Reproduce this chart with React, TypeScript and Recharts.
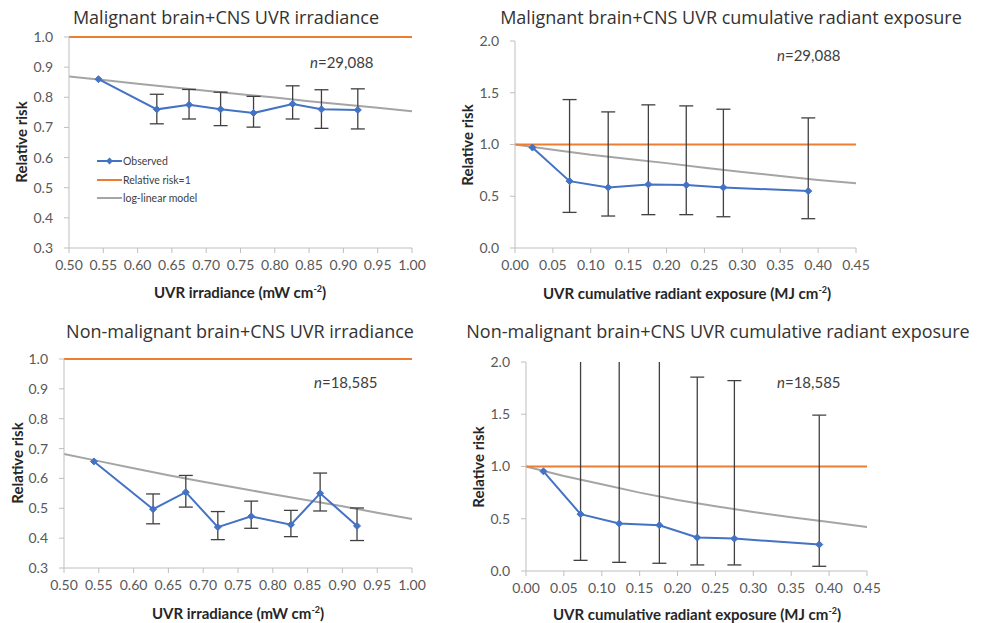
import { ErrorBar, Legend, Line, LineChart, XAxis, YAxis } from 'recharts';

const BLUE = '#4472C4';
const ORANGE = '#ED7D31';
const GREY = '#A5A5A5';
const BAR = '#404040';
const AXIS = '#BFBFBF';
const FONT = 'Lato, "Open Sans", sans-serif';

// x positions of the exposure groups
const irrX = [0.543, 0.628, 0.675, 0.721, 0.769, 0.826, 0.868, 0.921];
const cumX = [0.023, 0.072, 0.123, 0.176, 0.226, 0.275, 0.387];

// malignant, irradiance
const malIrrRR = [0.86, 0.76, 0.775, 0.76, 0.748, 0.778, 0.76, 0.758];
const malIrrLow = [null, 0.712, 0.728, 0.706, 0.701, 0.728, 0.697, 0.695];
const malIrrHigh = [null, 0.81, 0.826, 0.817, 0.803, 0.838, 0.825, 0.828];

// malignant, cumulative exposure
const malCumRR = [0.971, 0.646, 0.585, 0.614, 0.608, 0.585, 0.55];
const malCumLow = [null, 0.344, 0.309, 0.322, 0.322, 0.302, 0.283];
const malCumHigh = [null, 1.434, 1.315, 1.383, 1.373, 1.341, 1.257];

// non-malignant, irradiance
const nonIrrRR = [0.657, 0.497, 0.554, 0.437, 0.473, 0.445, 0.55, 0.441];
const nonIrrLow = [null, 0.448, 0.504, 0.395, 0.433, 0.405, 0.491, 0.392];
const nonIrrHigh = [null, 0.548, 0.61, 0.489, 0.524, 0.493, 0.618, 0.501];

// non-malignant, cumulative exposure (first three upper limits run off the top)
const nonCumRR = [0.954, 0.544, 0.454, 0.438, 0.32, 0.31, 0.253];
const nonCumLow = [null, 0.102, 0.083, 0.074, 0.058, 0.058, 0.045];
const nonCumHigh = [null, 2.6, 2.5, 2.4, 1.856, 1.821, 1.491];

// log-linear model curves
const irrModelX = [0.5, 0.55, 0.6, 0.65, 0.7, 0.75, 0.8, 0.85, 0.9, 0.95, 1.0];
const malIrrModel = [0.869, 0.857, 0.845, 0.833, 0.822, 0.81, 0.799, 0.787, 0.776, 0.765, 0.754];
const nonIrrModel = [0.682, 0.658, 0.634, 0.611, 0.589, 0.568, 0.547, 0.527, 0.507, 0.485, 0.464];
const cumModelX = [0, 0.05, 0.1, 0.15, 0.2, 0.25, 0.3, 0.35, 0.4, 0.45];
const malCumModel = [1.0, 0.95, 0.9, 0.86, 0.82, 0.775, 0.735, 0.695, 0.658, 0.625];
const nonCumModel = [1.0, 0.91, 0.83, 0.75, 0.68, 0.62, 0.565, 0.515, 0.47, 0.42];

// relative risk = 1 reference
const irrRefX = [0.5, 1.0];
const cumRefX = [0, 0.45];
const REF_RR = 1;

const irrTicks = [0.5, 0.55, 0.6, 0.65, 0.7, 0.75, 0.8, 0.85, 0.9, 0.95, 1.0];
const cumTicks = [0, 0.05, 0.1, 0.15, 0.2, 0.25, 0.3, 0.35, 0.4, 0.45];
const irrYTicks = [0.3, 0.4, 0.5, 0.6, 0.7, 0.8, 0.9, 1.0];
const cumYTicks = [0, 0.5, 1.0, 1.5, 2.0];

const legendOrder = ['Observed', 'Relative risk=1', 'log-linear model'];

function Diamond(props: any) {
  const { cx, cy, index } = props;
  if (cx == null || cy == null) return <g key={`dm-${index}`} />;
  const r = 3.5;
  return (
    <path
      key={`dm-${index}`}
      d={`M${cx},${cy - r}L${cx + r},${cy}L${cx},${cy + r}L${cx - r},${cy}Z`}
      fill={BLUE}
      stroke={BLUE}
    />
  );
}

function LegendBox({ payload }: any) {
  const items = legendOrder.map((n) => (payload || []).find((p: any) => p.value === n)).filter(Boolean);
  return (
    <div style={{ fontFamily: FONT, fontSize: 10.5, color: '#404040' }}>
      {items.map((item: any) => (
        <div key={item.value} style={{ display: 'flex', alignItems: 'center', height: 18.5 }}>
          <svg width={26} height={10}>
            <line x1={0} y1={5} x2={25} y2={5} stroke={item.color} strokeWidth={2} />
            {item.value === 'Observed' && <path d="M12.5,1.5L16,5L12.5,8.5L9,5Z" fill={BLUE} />}
          </svg>
          <span>{item.value}</span>
        </div>
      ))}
    </div>
  );
}

interface PanelProps {
  title: string;
  titleAt: [number, number];
  xTitle: string;
  xTitleAt: [number, number];
  yLabelAt: [number, number];
  n: string;
  nAt: [number, number];
  margin: { top: number; right: number; bottom: number; left: number };
  xDomain: [number, number];
  xTicks: number[];
  yDomain: [number, number];
  yTicks: number[];
  obsX: number[];
  rr: number[];
  low: (number | null)[];
  high: (number | null)[];
  modelX: number[];
  model: number[];
  refX: number[];
  legend?: boolean;
  clip?: boolean;
}

function Panel(p: PanelProps) {
  const observed = p.obsX.map((x, i) => ({
    x,
    y: p.rr[i],
    err: p.low[i] == null ? null : [p.rr[i] - (p.low[i] as number), (p.high[i] as number) - p.rr[i]],
  }));
  const modelData = p.modelX.map((x, i) => ({ x, y: p.model[i] }));
  const refData = p.refX.map((x) => ({ x, y: REF_RR }));
  const tickStyle = { fill: '#595959', fontSize: 14, fontFamily: FONT };

  // keep error bars that overrun the y range inside the plot area
  const pl = p.margin.left + 30;
  const pr = 984 - p.margin.right;
  const pt = p.margin.top;
  const clipPath = p.clip
    ? `polygon(0 0, ${pl}px 0, ${pl}px ${pt}px, ${pr}px ${pt}px, ${pr}px 0, 984px 0, 984px 623px, 0 623px)`
    : undefined;

  return (
    <>
      <div style={{ position: 'absolute', left: 0, top: 0, clipPath }}>
        <LineChart width={984} height={623} margin={p.margin}>
          <XAxis
            type="number"
            dataKey="x"
            domain={p.xDomain}
            ticks={p.xTicks}
            interval={0}
            height={30}
            tickFormatter={(v: number) => v.toFixed(2)}
            tick={tickStyle}
            stroke={AXIS}
            tickSize={5}
            tickMargin={7}
          />
          <YAxis
            type="number"
            domain={p.yDomain}
            ticks={p.yTicks}
            interval={0}
            width={30}
            allowDataOverflow={p.clip}
            tickFormatter={(v: number) => v.toFixed(1)}
            tick={tickStyle}
            stroke={AXIS}
            tickSize={5}
            tickMargin={11}
          />
          {p.legend && (
            <Legend
              layout="vertical"
              align="center"
              verticalAlign="middle"
              content={<LegendBox />}
              wrapperStyle={{ left: 97, top: 152, width: 160 }}
            />
          )}
          <Line
            data={modelData}
            dataKey="y"
            name="log-linear model"
            stroke={GREY}
            strokeWidth={2}
            dot={false}
            isAnimationActive={false}
          />
          <Line
            data={refData}
            dataKey="y"
            name="Relative risk=1"
            stroke={ORANGE}
            strokeWidth={2}
            dot={false}
            isAnimationActive={false}
          />
          <Line
            data={observed}
            dataKey="y"
            name="Observed"
            stroke={BLUE}
            strokeWidth={2}
            dot={Diamond}
            isAnimationActive={false}
          >
            <ErrorBar dataKey="err" direction="y" width={7} stroke={BAR} strokeWidth={1.3} />
          </Line>
        </LineChart>
      </div>
      <div
        style={{
          position: 'absolute',
          left: p.titleAt[0],
          top: p.titleAt[1],
          transform: 'translate(-50%, -50%)',
          whiteSpace: 'nowrap',
          fontFamily: '"Open Sans", Lato, sans-serif',
          fontSize: 18,
          color: '#333333',
        }}
      >
        {p.title}
      </div>
      <div
        style={{
          position: 'absolute',
          left: p.xTitleAt[0],
          top: p.xTitleAt[1],
          transform: 'translate(-50%, -50%)',
          whiteSpace: 'nowrap',
          fontSize: 15,
          fontWeight: 700,
          color: '#262626',
        }}
      >
        {p.xTitle} cm<sup style={{ fontSize: 9 }}>-2</sup>)
      </div>
      <div
        style={{
          position: 'absolute',
          left: p.yLabelAt[0],
          top: p.yLabelAt[1],
          transform: 'translate(-50%, -50%) rotate(-90deg)',
          whiteSpace: 'nowrap',
          fontSize: 15,
          fontWeight: 700,
          color: '#262626',
        }}
      >
        Relative risk
      </div>
      <div
        style={{
          position: 'absolute',
          left: p.nAt[0],
          top: p.nAt[1],
          transform: 'translateY(-50%)',
          whiteSpace: 'nowrap',
          fontSize: 15,
          color: '#404040',
        }}
      >
        <span style={{ fontStyle: 'italic' }}>n</span>={p.n}
      </div>
    </>
  );
}

export default function App() {
  return (
    <div
      style={{
        position: 'absolute',
        left: 0,
        top: 0,
        width: 984,
        height: 623,
        background: '#fff',
        fontFamily: FONT,
        overflow: 'hidden',
      }}
    >
      <Panel
        title="Malignant brain+CNS UVR irradiance"
        titleAt={[226, 17]}
        xTitle="UVR irradiance (mW"
        xTitleAt={[240, 292]}
        yLabelAt={[21, 142]}
        n="29,088"
        nAt={[310, 62]}
        margin={{ top: 37, right: 572, bottom: 345, left: 39 }}
        xDomain={[0.5, 1.0]}
        xTicks={irrTicks}
        yDomain={[0.3, 1.0]}
        yTicks={irrYTicks}
        obsX={irrX}
        rr={malIrrRR}
        low={malIrrLow}
        high={malIrrHigh}
        modelX={irrModelX}
        model={malIrrModel}
        refX={irrRefX}
        legend
      />
      <Panel
        title="Malignant brain+CNS UVR cumulative radiant exposure"
        titleAt={[731, 17]}
        xTitle="UVR cumulative radiant exposure (MJ"
        xTitleAt={[687, 293]}
        yLabelAt={[467, 145]}
        n="29,088"
        nAt={[777, 55]}
        margin={{ top: 41, right: 128, bottom: 345, left: 485 }}
        xDomain={[0, 0.45]}
        xTicks={cumTicks}
        yDomain={[0, 2]}
        yTicks={cumYTicks}
        obsX={cumX}
        rr={malCumRR}
        low={malCumLow}
        high={malCumHigh}
        modelX={cumModelX}
        model={malCumModel}
        refX={cumRefX}
      />
      <Panel
        title="Non-malignant brain+CNS UVR irradiance"
        titleAt={[240, 331]}
        xTitle="UVR irradiance (mW"
        xTitleAt={[238, 613]}
        yLabelAt={[17, 463]}
        n="18,585"
        nAt={[314, 382]}
        margin={{ top: 359, right: 572, bottom: 25, left: 34 }}
        xDomain={[0.5, 1.0]}
        xTicks={irrTicks}
        yDomain={[0.3, 1.0]}
        yTicks={irrYTicks}
        obsX={irrX}
        rr={nonIrrRR}
        low={nonIrrLow}
        high={nonIrrHigh}
        modelX={irrModelX}
        model={nonIrrModel}
        refX={irrRefX}
      />
      <Panel
        title="Non-malignant brain+CNS UVR cumulative radiant exposure"
        titleAt={[718, 331]}
        xTitle="UVR cumulative radiant exposure (MJ"
        xTitleAt={[697, 614]}
        yLabelAt={[478, 467]}
        n="18,585"
        nAt={[777, 382]}
        margin={{ top: 362, right: 117, bottom: 22, left: 496 }}
        xDomain={[0, 0.45]}
        xTicks={cumTicks}
        yDomain={[0, 2]}
        yTicks={cumYTicks}
        obsX={cumX}
        rr={nonCumRR}
        low={nonCumLow}
        high={nonCumHigh}
        modelX={cumModelX}
        model={nonCumModel}
        refX={cumRefX}
        clip
      />
    </div>
  );
}
